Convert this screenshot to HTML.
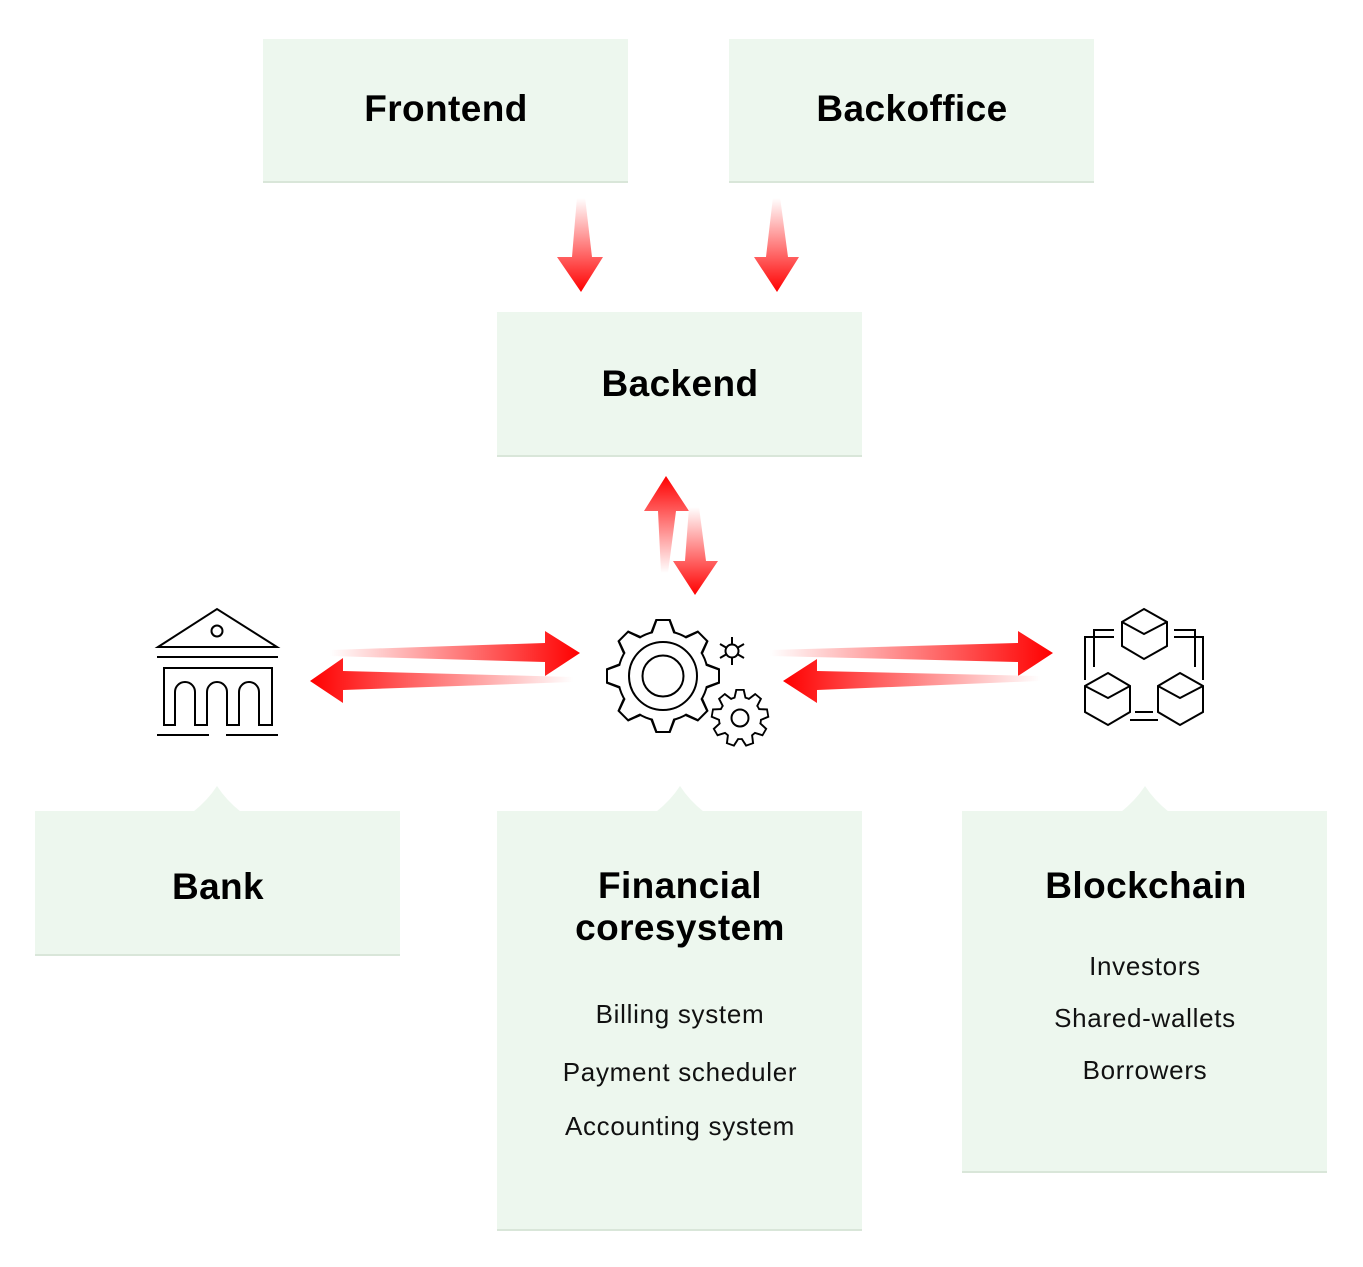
<!DOCTYPE html>
<html><head><meta charset="utf-8"><style>
html,body{margin:0;padding:0;background:#fff;}
svg{display:block;}
text{font-family:"Liberation Sans",sans-serif;fill:#000;}
.t{font-weight:bold;font-size:37px;text-anchor:middle;letter-spacing:0.4px;}
.s{font-size:26px;text-anchor:middle;fill:#111;letter-spacing:0.7px;}
</style></head><body>
<svg width="1363" height="1267" viewBox="0 0 1363 1267" xmlns="http://www.w3.org/2000/svg">
<defs>
<linearGradient id="gd1" gradientUnits="userSpaceOnUse" x1="0" y1="198" x2="0" y2="292"><stop offset="0" stop-color="#fff"/><stop offset="1" stop-color="#ff0000"/></linearGradient>
<linearGradient id="gu" gradientUnits="userSpaceOnUse" x1="0" y1="573" x2="0" y2="476"><stop offset="0" stop-color="#fff"/><stop offset="1" stop-color="#ff0000"/></linearGradient>
<linearGradient id="gd2" gradientUnits="userSpaceOnUse" x1="0" y1="507" x2="0" y2="595"><stop offset="0" stop-color="#fff"/><stop offset="1" stop-color="#ff0000"/></linearGradient>
<linearGradient id="gr1" gradientUnits="userSpaceOnUse" x1="330" y1="0" x2="580" y2="0"><stop offset="0" stop-color="#fff"/><stop offset="1" stop-color="#ff0000"/></linearGradient>
<linearGradient id="gl1" gradientUnits="userSpaceOnUse" x1="573" y1="0" x2="310" y2="0"><stop offset="0" stop-color="#fff"/><stop offset="1" stop-color="#ff0000"/></linearGradient>
<linearGradient id="gr2" gradientUnits="userSpaceOnUse" x1="770" y1="0" x2="1053" y2="0"><stop offset="0" stop-color="#fff"/><stop offset="1" stop-color="#ff0000"/></linearGradient>
<linearGradient id="gl2" gradientUnits="userSpaceOnUse" x1="1040" y1="0" x2="783" y2="0"><stop offset="0" stop-color="#fff"/><stop offset="1" stop-color="#ff0000"/></linearGradient>
</defs>

<!-- boxes -->
<g fill="#edf7ee">
<rect x="263" y="39" width="365" height="143"/>
<rect x="729" y="39" width="365" height="143"/>
<rect x="497" y="312" width="365" height="144"/>
<rect x="35" y="811" width="365" height="144"/>
<rect x="497" y="811" width="365" height="419"/>
<rect x="962" y="811" width="365" height="361"/>
<path d="M193 812 Q208 800 217 786 Q226 800 241 812 Z"/>
<path d="M656 812 Q671 800 680 786 Q689 800 704 812 Z"/>
<path d="M1121 812 Q1136 800 1145 786 Q1154 800 1169 812 Z"/>
</g>
<g fill="#d9e6d9">
<rect x="263" y="181" width="365" height="2"/>
<rect x="729" y="181" width="365" height="2"/>
<rect x="497" y="455" width="365" height="2"/>
<rect x="35" y="954" width="365" height="2"/>
<rect x="497" y="1229" width="365" height="2"/>
<rect x="962" y="1171" width="365" height="2"/>
</g>

<text class="t" x="446" y="121">Frontend</text>
<text class="t" x="912" y="121">Backoffice</text>
<text class="t" x="680" y="396">Backend</text>
<text class="t" x="218" y="899">Bank</text>
<text class="t" x="680" y="898">Financial</text>
<text class="t" x="680" y="940">coresystem</text>
<text class="t" x="1146" y="898">Blockchain</text>
<text class="s" x="680" y="1023">Billing system</text>
<text class="s" x="680" y="1081">Payment scheduler</text>
<text class="s" x="680" y="1135">Accounting system</text>
<text class="s" x="1145" y="975">Investors</text>
<text class="s" x="1145" y="1027">Shared-wallets</text>
<text class="s" x="1145" y="1079">Borrowers</text>

<!-- arrows -->
<polygon fill="url(#gd1)" points="577,197 585,197 592,257 603,257 581,292 557,257 572,257"/>
<polygon fill="url(#gd1)" points="773,197 780,197 788,257 799,257 777,292 754,257 766,257"/>
<polygon fill="url(#gu)" points="661,573 668,573 676,511 689,511 666,476 644,511 658,511"/>
<polygon fill="url(#gd2)" points="689,507 699,507 706,561 718,561 695,595 673,561 685,561"/>
<polygon fill="url(#gr1)" points="330,650 545,643 545,631 580,653 545,676 545,662 330,656"/>
<polygon fill="url(#gl1)" points="573,677 343,671 343,658 310,681 343,703 343,690 573,682"/>
<polygon fill="url(#gr2)" points="770,650 1018,643 1018,631 1053,653 1018,676 1018,662 770,656"/>
<polygon fill="url(#gl2)" points="1040,676 817,671 817,659 783,681 817,703 817,690 1040,681"/>

<!-- bank icon -->
<g fill="none" stroke="#000" stroke-width="2">
<path d="M158 647 L217 609 L277 647 Z"/>
<circle cx="217" cy="631" r="5.5"/>
<line x1="157" y1="657" x2="278" y2="657"/>
<path d="M164 725 V668 H272 V725 H259 V692 A10 10 0 0 0 239 692 V725 H227 V692 A10 10 0 0 0 207 692 V725 H195 V692 A10 10 0 0 0 175 692 V725 Z"/>
<line x1="157" y1="735" x2="209" y2="735"/>
<line x1="226" y1="735" x2="278" y2="735"/>
</g>

<!-- gears -->
<g transform="translate(663,676)">
<g fill="#000">
<circle r="46"/>
<g id="tb"><polygon points="-12.5,-44 -7.5,-57 7.5,-57 12.5,-44"/></g>
<use href="#tb" transform="rotate(45)"/><use href="#tb" transform="rotate(90)"/><use href="#tb" transform="rotate(135)"/><use href="#tb" transform="rotate(180)"/><use href="#tb" transform="rotate(225)"/><use href="#tb" transform="rotate(270)"/><use href="#tb" transform="rotate(315)"/>
</g>
<g fill="#fff">
<circle r="44"/>
<g id="tw"><polygon points="-10.5,-42 -5.8,-55 5.8,-55 10.5,-42"/></g>
<use href="#tw" transform="rotate(45)"/><use href="#tw" transform="rotate(90)"/><use href="#tw" transform="rotate(135)"/><use href="#tw" transform="rotate(180)"/><use href="#tw" transform="rotate(225)"/><use href="#tw" transform="rotate(270)"/><use href="#tw" transform="rotate(315)"/>
</g>
<circle r="34" fill="none" stroke="#000" stroke-width="2"/>
<circle r="20.5" fill="none" stroke="#000" stroke-width="2"/>
</g>
<g transform="translate(740,718)">
<g fill="#000">
<circle r="22"/>
<g id="sb"><polygon points="-6.5,-20 -4.5,-29 4.5,-29 6.5,-20"/></g>
<use href="#sb" transform="rotate(40)"/><use href="#sb" transform="rotate(80)"/><use href="#sb" transform="rotate(120)"/><use href="#sb" transform="rotate(160)"/><use href="#sb" transform="rotate(200)"/><use href="#sb" transform="rotate(240)"/><use href="#sb" transform="rotate(280)"/><use href="#sb" transform="rotate(320)"/>
</g>
<g fill="#fff">
<circle r="20.2"/>
<g id="sw"><polygon points="-4.8,-19 -2.9,-27.2 2.9,-27.2 4.8,-19"/></g>
<use href="#sw" transform="rotate(40)"/><use href="#sw" transform="rotate(80)"/><use href="#sw" transform="rotate(120)"/><use href="#sw" transform="rotate(160)"/><use href="#sw" transform="rotate(200)"/><use href="#sw" transform="rotate(240)"/><use href="#sw" transform="rotate(280)"/><use href="#sw" transform="rotate(320)"/>
</g>
<circle r="8.5" fill="none" stroke="#000" stroke-width="2"/>
</g>
<g transform="translate(732,651)" stroke="#000" stroke-width="2" fill="none">
<circle r="6.5"/>
<line x1="0" y1="-7" x2="0" y2="-14"/><line x1="0" y1="7" x2="0" y2="14"/>
<line x1="6" y1="-3.5" x2="12" y2="-7"/><line x1="-6" y1="-3.5" x2="-12" y2="-7"/>
<line x1="6" y1="3.5" x2="12" y2="7"/><line x1="-6" y1="3.5" x2="-12" y2="7"/>
</g>

<!-- blockchain icon -->
<g fill="none" stroke="#000" stroke-width="2">
<path d="M1144 609 L1167 622 L1167 646 L1144 659 L1122 646 L1122 622 Z M1122 622 L1144 634 L1167 622"/>
<path d="M1108 673 L1130 686 L1130 712 L1108 725 L1085 712 L1085 686 Z M1085 686 L1108 698 L1130 686"/>
<path d="M1180 673 L1203 686 L1203 712 L1180 725 L1158 712 L1158 686 Z M1158 686 L1180 698 L1203 686"/>
<path d="M1114 630 H1094 V667"/>
<path d="M1114 637 H1085 V680"/>
<path d="M1174 630 H1195 V667"/>
<path d="M1174 637 H1203 V680"/>
<line x1="1135" y1="712" x2="1153" y2="712"/>
<line x1="1130" y1="720" x2="1158" y2="720"/>
</g>
</svg>
</body></html>
